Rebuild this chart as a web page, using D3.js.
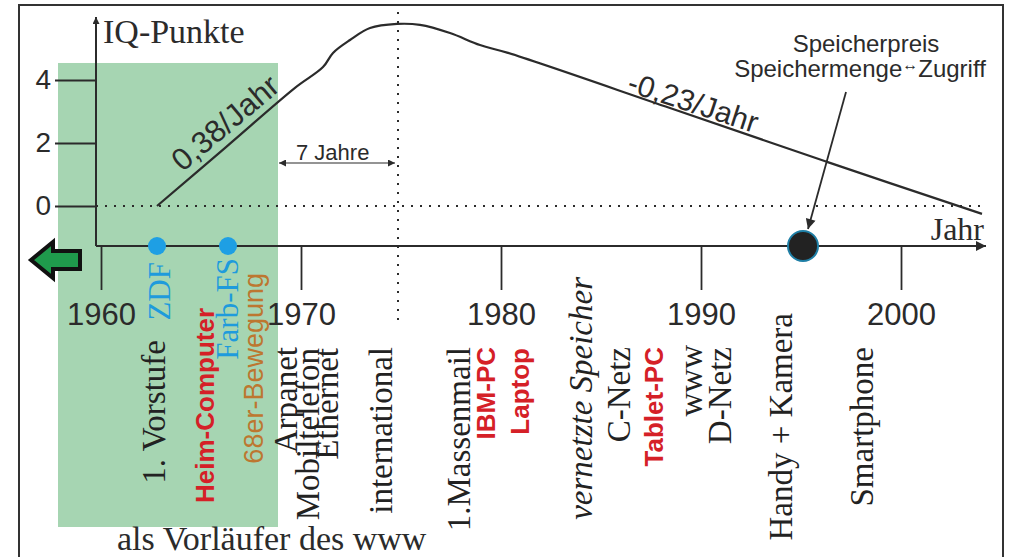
<!DOCTYPE html>
<html>
<head>
<meta charset="utf-8">
<script src="https://cdn.jsdelivr.net/npm/d3@7"></script>
<style>
  body { margin: 0; background: #fff; }
  svg { display: block; }
  .serif { font-family: "Liberation Serif", "Times New Roman", serif; }
  .sans { font-family: "Liberation Sans", Arial, sans-serif; }
</style>
</head>
<body>
<svg id="chart"></svg>
<script>
// IQ curve (year, IQ points)
var curveYears = [1962.8, 1966.25, 1969.7, 1971.1, 1971.6, 1972.45, 1973.45, 1974.8, 1975.95, 1977.45, 1978.95, 1980.35, 1988.45, 1996.3, 2004.05];
var curveValues = [0, 1.87, 3.75, 4.41, 4.86, 5.27, 5.65, 5.78, 5.75, 5.49, 5.11, 4.86, 3.11, 1.4, -0.25];

var tickYears = [1960, 1970, 1980, 1990, 2000];
var iqTicks = [0, 2, 4];

// TV milestones (blue dots) and storage milestone (black dot)
var tvYears = [1962.8, 1966.35];
var storageYear = 1995.1;
var peakYear = 1974.85;

// events written under the time axis
var eventNames = ["ZDF", "1. Vorstufe", "Heim-Computer", "Farb-FS", "68er-Bewegung", "Arpanet", "Mobiltelefon", "Ethernet",
  "international", "1.Massenmail", "IBM-PC", "Laptop", "vernetzte Speicher", "C-Netz", "Tablet-PC", "www", "D-Netz",
  "Handy + Kamera", "Smartphone"];
var eventYears = [1963.45, 1963.2, 1965.65, 1966.85, 1968.1, 1969.8, 1970.9, 1971.85,
  1974.55, 1978.45, 1979.7, 1981.4, 1984.55, 1986.45, 1988.1, 1990.05, 1991.5,
  1994.55, 1998.6];

// look of each event label (kind) and where its top end sits
var eventKind = ["tv", "plain", "pc", "tv", "social", "plain", "plain", "plain",
  "plain", "plain", "pc", "pc", "italic", "plain", "pc", "plain", "plain", "plain", "plain"];
var eventTop = [262, 340, 308, 258, 273, 347, 348, 348, 347, 347, 347, 348, 277, 347, 347, 345, 347, 313, 347];

var kinds = {
  plain: { cls: "serif", size: 33, color: "#222", weight: "normal", style: "normal" },
  italic: { cls: "serif", size: 33, color: "#222", weight: "normal", style: "italic" },
  tv: { cls: "serif", size: 31, color: "#1e9bdc", weight: "normal", style: "normal" },
  pc: { cls: "sans", size: 26, color: "#d52027", weight: "bold", style: "normal" },
  social: { cls: "sans", size: 27, color: "#bd7730", weight: "normal", style: "normal" }
};

var width = 1011, height = 557;
var svg = d3.select("#chart").attr("width", width).attr("height", height);

var x = d3.scaleLinear().domain([1970, 2000]).range([301, 901]);
var y = d3.scaleLinear().domain([0, 4]).range([206, 80]);
var axisY = 246, axisX = 96;
var ink = "#2b2b2b";

var defs = svg.append("defs");
function arrowMarker(id, w, h) {
  defs.append("marker")
    .attr("id", id)
    .attr("viewBox", "0 0 10 10")
    .attr("refX", 10).attr("refY", 5)
    .attr("markerUnits", "userSpaceOnUse")
    .attr("markerWidth", w).attr("markerHeight", h)
    .attr("orient", "auto-start-reverse")
    .append("path")
    .attr("d", "M0,0L10,5L0,10z")
    .attr("fill", ink);
}
arrowMarker("arrow", 14, 10);
arrowMarker("arrowSmall", 10, 7);

// green period
svg.append("rect")
  .attr("x", x(1957.85))
  .attr("y", y(4.54))
  .attr("width", x(1968.85) - x(1957.85))
  .attr("height", 527 - y(4.54))
  .attr("fill", "#a6d5b2");

// frame
svg.append("path")
  .attr("d", "M19,560V5H1003V560")
  .attr("fill", "none")
  .attr("stroke", "#333")
  .attr("stroke-width", 2);

// zero line and peak marker line
svg.append("line")
  .attr("x1", axisX).attr("x2", x(2004.0))
  .attr("y1", y(0)).attr("y2", y(0))
  .attr("stroke", ink).attr("stroke-width", 2)
  .attr("stroke-dasharray", "2,7");
svg.append("line")
  .attr("x1", x(peakYear)).attr("x2", x(peakYear))
  .attr("y1", 12).attr("y2", 323)
  .attr("stroke", ink).attr("stroke-width", 2)
  .attr("stroke-dasharray", "2,7");

// y axis
var gy = svg.append("g")
  .attr("transform", "translate(" + axisX + ",0)")
  .call(d3.axisLeft(y).tickValues(iqTicks).tickSize(41).tickPadding(4).tickFormat(d3.format("d")));
gy.select(".domain").remove();
gy.selectAll(".tick line").attr("stroke", ink).attr("stroke-width", 1.8);
gy.selectAll(".tick text")
  .attr("class", "sans")
  .attr("font-size", 28)
  .attr("fill", ink);

svg.append("line")
  .attr("x1", axisX).attr("x2", axisX)
  .attr("y1", axisY).attr("y2", 17)
  .attr("stroke", ink).attr("stroke-width", 2)
  .attr("marker-end", "url(#arrowSmall)");

// x axis
var gx = svg.append("g")
  .attr("transform", "translate(0," + axisY + ")")
  .call(d3.axisBottom(x).tickValues(tickYears).tickSize(44).tickPadding(13).tickFormat(d3.format("d")));
gx.select(".domain").remove();
gx.selectAll(".tick line").attr("stroke", ink).attr("stroke-width", 1.8);
gx.selectAll(".tick text")
  .attr("class", "sans")
  .attr("font-size", 31)
  .attr("fill", ink);

svg.append("line")
  .attr("x1", axisX).attr("x2", 986)
  .attr("y1", axisY).attr("y2", axisY)
  .attr("stroke", ink).attr("stroke-width", 2.2)
  .attr("marker-end", "url(#arrow)");

// axis titles
svg.append("text")
  .attr("class", "serif")
  .attr("x", 103).attr("y", 43)
  .attr("font-size", 34)
  .attr("fill", ink)
  .text("IQ-Punkte");
svg.append("text")
  .attr("class", "serif")
  .attr("x", 984).attr("y", 240)
  .attr("text-anchor", "end")
  .attr("font-size", 32)
  .attr("fill", ink)
  .text("Jahr");

// IQ curve
var line = d3.line()
  .x(function(d) { return x(d[0]); })
  .y(function(d) { return y(d[1]); })
  .curve(d3.curveCatmullRom.alpha(0.5));
svg.append("path")
  .datum(d3.zip(curveYears, curveValues))
  .attr("d", line)
  .attr("fill", "none")
  .attr("stroke", ink)
  .attr("stroke-width", 2.2);

// slope labels
svg.append("text")
  .attr("class", "sans")
  .attr("transform", "translate(" + x(1966.55) + "," + y(2.38) + ") rotate(-40)")
  .attr("text-anchor", "middle")
  .attr("font-size", 31)
  .attr("fill", ink)
  .text("0,38/Jahr");
svg.append("text")
  .attr("class", "sans")
  .attr("transform", "translate(" + x(1989.45) + "," + y(2.98) + ") rotate(18)")
  .attr("text-anchor", "middle")
  .attr("font-size", 30)
  .attr("fill", ink)
  .text("-0,23/Jahr");

// 7 Jahre
svg.append("line")
  .attr("x1", x(1968.9)).attr("x2", x(peakYear) - 3)
  .attr("y1", 163).attr("y2", 163)
  .attr("stroke", ink).attr("stroke-width", 1.2)
  .attr("marker-start", "url(#arrowSmall)")
  .attr("marker-end", "url(#arrowSmall)");
svg.append("text")
  .attr("class", "sans")
  .attr("x", 296).attr("y", 160)
  .attr("font-size", 22)
  .attr("fill", ink)
  .text("7 Jahre");

// storage annotation
svg.append("text")
  .attr("class", "sans")
  .attr("x", 866).attr("y", 52)
  .attr("text-anchor", "middle")
  .attr("font-size", 24)
  .attr("fill", ink)
  .text("Speicherpreis");
var st = svg.append("text")
  .attr("class", "sans")
  .attr("x", 860).attr("y", 77)
  .attr("text-anchor", "middle")
  .attr("font-size", 24)
  .attr("fill", ink);
st.append("tspan").text("Speichermenge");
st.append("tspan").attr("font-size", 16).attr("dy", -7).text("\u2194");
st.append("tspan").attr("dy", 7).text("Zugriff");

svg.append("line")
  .attr("x1", 846).attr("y1", 92)
  .attr("x2", x(storageYear) + 5).attr("y2", 229)
  .attr("stroke", ink).attr("stroke-width", 1.8)
  .attr("marker-end", "url(#arrow)");

// green arrow pointing to earlier times
svg.append("path")
  .attr("d", "M31,260L53,242V251H80V269H53V278Z")
  .attr("fill", "#1f9a4c")
  .attr("stroke", "#111")
  .attr("stroke-width", 4)
  .attr("stroke-linejoin", "miter");

// dots on the time axis
svg.selectAll(".tv")
  .data(tvYears)
  .enter()
  .append("circle")
  .attr("class", "tv")
  .attr("cx", function(d) { return x(d); })
  .attr("cy", axisY)
  .attr("r", 9)
  .attr("fill", "#1e9fe4");

svg.append("circle")
  .attr("cx", x(storageYear))
  .attr("cy", axisY)
  .attr("r", 15)
  .attr("fill", "#222")
  .attr("stroke", "#1f7fa6")
  .attr("stroke-width", 2);

// event labels, written upwards
svg.selectAll(".event")
  .data(d3.range(eventNames.length))
  .enter()
  .append("text")
  .attr("class", function(i) { return "event " + kinds[eventKind[i]].cls; })
  .attr("transform", function(i) {
    return "translate(" + x(eventYears[i]) + "," + eventTop[i] + ") rotate(-90)";
  })
  .attr("text-anchor", "end")
  .attr("font-size", function(i) { return kinds[eventKind[i]].size; })
  .attr("font-weight", function(i) { return kinds[eventKind[i]].weight; })
  .attr("font-style", function(i) { return kinds[eventKind[i]].style; })
  .attr("fill", function(i) { return kinds[eventKind[i]].color; })
  .text(function(i) { return eventNames[i]; });

svg.append("text")
  .attr("class", "serif")
  .attr("x", 117).attr("y", 550)
  .attr("font-size", 34)
  .attr("fill", ink)
  .text("als Vorl\u00e4ufer des www");
</script>
</body>
</html>
